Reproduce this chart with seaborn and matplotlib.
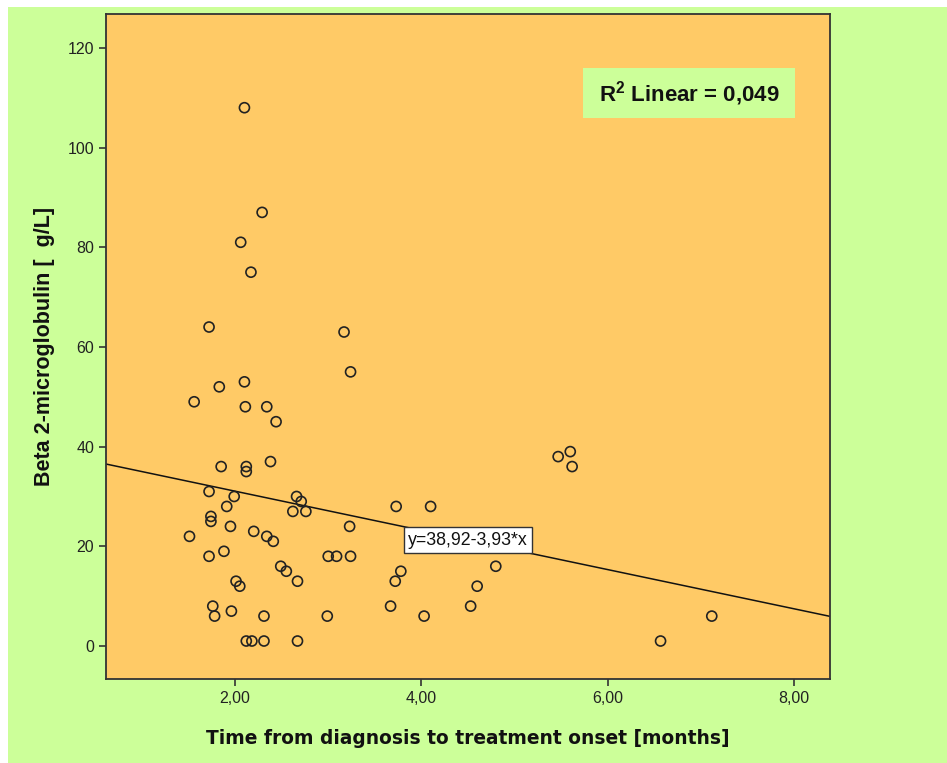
import matplotlib
matplotlib.use("Agg")
import matplotlib.pyplot as plt
import seaborn as sns
import pandas as pd
from matplotlib.patches import Rectangle

# ---- data ----
time_months = [2.10, 2.29, 2.06, 2.17, 1.72, 3.17, 3.24, 2.10, 1.83, 1.56,
               2.11, 2.34, 2.44, 5.47, 5.60, 5.62, 2.38, 1.85, 2.12, 2.12,
               1.72, 1.99, 2.66, 2.71, 1.91, 3.73, 4.10, 2.76, 2.62, 1.74,
               1.74, 3.23, 1.95, 2.20, 1.51, 2.34, 2.41, 1.88, 1.72, 3.00,
               3.09, 3.24, 4.80, 2.49, 2.55, 3.78, 3.72, 2.67, 2.01, 2.05,
               4.60, 1.76, 3.67, 4.53, 1.78, 1.96, 2.31, 2.99, 4.03, 7.12,
               2.12, 2.18, 2.31, 2.67, 6.57]
beta2 = [108, 87, 81, 75, 64, 63, 55, 53, 52, 49,
         48, 48, 45, 38, 39, 36, 37, 36, 36, 35,
         31, 30, 30, 29, 28, 28, 28, 27, 27, 26,
         25, 24, 24, 23, 22, 22, 21, 19, 18, 18,
         18, 18, 16, 16, 15, 15, 13, 13, 13, 12,
         12, 8, 8, 8, 6, 7, 6, 6, 6, 6,
         1, 1, 1, 1, 1]
fit_intercept = 38.92
fit_slope = -3.93
r2_text = r"R$^{\mathbf{2}}$ Linear = 0,049"
eq_text = "y=38,92-3,93*x"
x_ticks = [2, 4, 6, 8]
x_ticklabels = ["2,00", "4,00", "6,00", "8,00"]
y_ticks = [0, 20, 40, 60, 80, 100, 120]

df = pd.DataFrame({"time": time_months, "b2m": beta2})

sns.set_theme(style="white")
plt.rcParams['font.family'] = ['Liberation Sans', 'DejaVu Sans']
plt.rcParams['mathtext.fontset'] = 'custom'
plt.rcParams['mathtext.rm'] = 'Liberation Sans'
plt.rcParams['mathtext.bf'] = 'Liberation Sans:bold'

GREEN = "#CCFF99"
ORANGE = "#FFCA66"

fig = plt.figure(figsize=(9.47, 7.63), dpi=100)
fig.patch.set_facecolor("white")
fig.patches.append(Rectangle((8 / 947, 0), 1 - 8 / 947, 1 - 7 / 763,
                             transform=fig.transFigure, facecolor=GREEN,
                             edgecolor="none", zorder=-10))

ax = fig.add_axes([106 / 947, 1 - 679 / 763, (830 - 106) / 947, (679 - 14) / 763])
ax.set_facecolor(ORANGE)

sns.scatterplot(data=df, x="time", y="b2m", ax=ax, marker="o", s=52,
                facecolor="none", edgecolor="#222222", linewidth=1.2, zorder=3)

ax.axline((0, fit_intercept), slope=fit_slope, color="#111111", lw=1.1, zorder=2)

ax.set_xlim(0.613, 8.39)
ax.set_ylim(-6.62, 126.8)
ax.set_xticks(x_ticks)
ax.set_xticklabels(x_ticklabels)
ax.set_yticks(y_ticks)

for sp in ax.spines.values():
    sp.set_color("#333333")
    sp.set_linewidth(1.3)

ax.tick_params(axis="both", direction="out", length=5, width=1.2, color="#333333",
               labelsize=11.5, labelcolor="#222222", pad=3.5,
               bottom=True, left=True)

ax.set_xlabel("Time from diagnosis to treatment onset [months]",
              family="DejaVu Sans", fontweight="bold", fontsize=13.4,
              color="#111111", labelpad=17)
ax.set_ylabel("Beta 2-microglobulin [  g/L]",
              fontweight="bold", fontsize=15.5, color="#111111", labelpad=9)

# R² box
ax.add_patch(Rectangle((5.74, 106.0), 8.01 - 5.74, 116.0 - 106.0,
                       facecolor=GREEN, edgecolor="none", zorder=4))
ax.text(6.875, 110.8, r2_text, ha="center", va="center", fontsize=16,
        fontweight="bold", color="#111111", zorder=5)

# equation label
ax.text(4.50, 21.2, eq_text, ha="center", va="center", fontsize=12.8,
        color="#111111", zorder=6,
        bbox=dict(boxstyle="square,pad=0.25", facecolor="white",
                  edgecolor="#333333", linewidth=1.0))

fig.savefig("out.png", dpi=100)
